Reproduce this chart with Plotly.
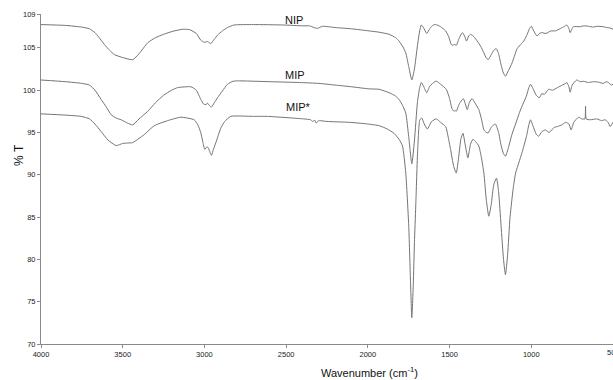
import plotly.graph_objects as go

# ---------------- data ----------------
nip_wn = [4000, 3850, 3750, 3703, 3670, 3652, 3612, 3580, 3551, 3500, 3439, 3400, 3347, 3300, 3250,
          3185, 3130, 3090, 3050, 3022, 3000, 2991, 2981, 2970, 2961, 2940, 2920, 2890, 2859, 2819,
          2700, 2514, 2400, 2357, 2330, 2308, 2278, 2200, 2100, 1992, 1931, 1870, 1830, 1809, 1785,
          1768, 1750, 1731, 1715, 1697, 1683, 1673, 1660, 1640, 1620, 1600, 1585, 1555, 1524, 1505,
          1490, 1483, 1470, 1459, 1440, 1422, 1408, 1396, 1383, 1371, 1350, 1331, 1310, 1290, 1275,
          1264, 1245, 1230, 1215, 1200, 1185, 1170, 1158, 1140, 1118, 1100, 1087, 1060, 1046, 1025,
          1010, 1000, 985, 965, 950, 935, 910, 880, 853, 820, 800, 782, 770, 762, 750, 742, 700, 680,
          650, 620, 600, 560, 540, 518, 500]
nip_t = [107.75, 107.65, 107.45, 107.25, 106.8, 106.4, 105.4, 104.7, 104.2, 103.85, 103.6, 104.3, 105.6,
         106.2, 106.6, 107.0, 107.2, 107.15, 106.7, 105.9, 105.65, 105.7, 105.75, 105.6, 105.5, 106.0,
         106.5, 107.0, 107.4, 107.7, 107.75, 107.7, 107.6, 107.6, 107.4, 107.3, 107.55, 107.4, 107.25,
         107.0, 106.85, 106.6, 106.2, 105.8, 105.1, 104.4, 102.8, 101.2, 102.5, 105.2, 107.0, 107.7,
         107.4, 106.7, 107.3, 107.7, 107.75, 107.5, 107.0, 106.3, 105.4, 105.3, 105.4, 105.3, 106.2,
         106.8, 106.4, 105.8, 106.4, 106.6, 106.3, 105.8, 105.2, 104.4, 103.8, 103.6, 104.2, 104.7,
         104.9, 104.3, 103.0, 102.0, 101.65, 102.3, 103.2, 104.2, 104.9, 105.5, 105.8, 106.6, 107.3,
         107.55, 107.0, 106.4, 106.7, 106.8, 106.7, 107.0, 107.0, 107.3, 107.5, 107.7, 107.3, 106.8,
         107.3, 107.5, 107.5, 107.6, 107.55, 107.45, 107.55, 107.5, 107.4, 107.35, 107.2]

mip_wn = [4000, 3850, 3750, 3703, 3670, 3632, 3600, 3571, 3540, 3510, 3470, 3439, 3400, 3347, 3300,
          3250, 3200, 3164, 3083, 3050, 3022, 3005, 2991, 2980, 2970, 2957, 2940, 2920, 2890, 2859,
          2825, 2798, 2600, 2418, 2300, 2200, 2100, 1992, 1931, 1870, 1830, 1809, 1788, 1768, 1750,
          1731, 1715, 1697, 1683, 1673, 1660, 1640, 1620, 1590, 1579, 1555, 1520, 1500, 1485, 1473,
          1465, 1459, 1440, 1416, 1404, 1392, 1378, 1362, 1345, 1321, 1305, 1290, 1275, 1264, 1245,
          1230, 1219, 1200, 1185, 1170, 1158, 1140, 1118, 1096, 1075, 1057, 1030, 1015, 1005, 990,
          970, 951, 935, 920, 894, 870, 840, 810, 790, 782, 770, 762, 750, 722, 700, 680, 650, 620,
          590, 560, 540, 528, 510, 500]
mip_t = [101.2, 101.0, 100.8, 100.6, 100.0, 98.9, 98.0, 97.1, 96.7, 96.5, 96.1, 95.9, 96.6, 97.5, 98.5,
         99.4, 100.0, 100.3, 100.4, 100.0, 98.9, 98.35, 98.3, 98.45, 98.2, 98.0, 98.5, 99.1, 99.9, 100.7,
         101.05, 101.1, 101.0, 100.9, 100.8, 100.6, 100.4, 100.15, 100.1, 99.7, 99.3, 98.9, 98.2, 97.3,
         94.5, 91.3, 94.0, 98.5, 100.3, 100.9, 100.5, 99.7, 100.5, 101.0, 101.05, 100.7, 100.1, 99.0,
         97.8, 97.5, 97.6, 97.5, 98.4, 99.0, 98.4, 97.7, 98.6, 99.0, 98.5, 97.7, 96.6, 95.3, 95.0,
         94.95, 95.6, 95.9, 96.0, 95.0, 93.5, 92.5, 92.2, 93.2, 94.8, 96.0, 97.2, 98.1, 99.3, 100.3,
         100.7, 100.2, 99.4, 99.1, 99.6, 99.5, 100.1, 100.0, 100.3, 100.6, 100.8, 100.9, 100.4, 99.75,
         100.6, 101.2, 101.0, 101.05, 100.9, 101.0, 100.95, 100.8, 101.0, 100.9, 100.6, 100.7]

mips_wn = [4000, 3850, 3754, 3703, 3670, 3632, 3590, 3540, 3500, 3470, 3439, 3400, 3368, 3307, 3225,
           3144, 3063, 3040, 3022, 3010, 2998, 2985, 2977, 2965, 2957, 2945, 2930, 2900, 2876, 2839,
           2700, 2615, 2392, 2350, 2337, 2325, 2316, 2305, 2296, 2250, 2114, 2000, 1931, 1880, 1840,
           1809, 1788, 1768, 1750, 1740, 1731, 1722, 1715, 1707, 1695, 1682, 1670, 1655, 1636, 1610,
           1581, 1555, 1524, 1510, 1494, 1475, 1459, 1445, 1430, 1418, 1403, 1388, 1372, 1357, 1340,
           1321, 1305, 1290, 1275, 1260, 1245, 1230, 1213, 1200, 1185, 1170, 1158, 1145, 1130, 1110,
           1096, 1075, 1057, 1030, 1015, 1005, 990, 970, 955, 935, 914, 890, 860, 840, 813, 790, 770,
           756, 740, 711, 690, 672, 668, 664, 640, 600, 570, 548, 530, 518, 500]
mips_t = [97.2, 97.05, 96.9, 96.6, 96.0, 95.1, 94.1, 93.45, 93.7, 93.75, 93.8, 94.3, 94.75, 95.8, 96.4,
          96.8, 96.5, 95.9, 94.95, 93.9, 93.0, 93.3, 93.2, 92.6, 92.3, 93.0, 93.8, 95.5, 96.3, 96.9,
          96.9, 96.9, 96.6, 96.5, 96.3, 96.45, 96.1, 96.35, 96.4, 96.3, 96.2, 96.0, 95.8, 95.4, 94.9,
          94.2, 93.4, 90.2, 84.0, 78.0, 73.1, 77.0, 82.0, 86.3, 93.0, 96.5, 96.7, 96.0, 95.4, 96.3,
          96.6, 96.2, 95.7, 94.6, 93.0, 91.0, 90.2, 92.0, 94.3, 94.9, 93.4, 92.0, 93.6, 94.2, 93.9,
          93.4, 92.0, 90.2, 87.0, 85.1, 86.5, 88.8, 89.6, 88.0, 84.0, 80.0, 78.2, 80.5, 85.0, 88.5,
          90.2, 91.5, 92.6, 94.5, 95.9, 96.5, 95.8, 94.8, 94.55, 95.1, 95.3, 95.0, 95.6, 95.7, 95.9,
          96.2, 96.0, 95.3, 96.2, 96.8, 96.6, 96.6, 98.1, 96.6, 96.5, 96.6, 96.4, 96.5, 96.2, 95.7, 96.2]

series_names = ["NIP", "MIP", "MIP*"]
label_wn = [2455, 2443, 2425]
label_t = [108.35, 101.8, 98.0]

x_ticks = [4000, 3500, 3000, 2500, 2000, 1500, 1000, 500]
y_ticks = [70, 75, 80, 85, 90, 95, 100, 105, 109]

# ---------------- figure ----------------
LINE = "#747474"
AX = "#8a8a8a"
FONT = "Arial, Liberation Sans, sans-serif"

fig = go.Figure()
for name, wn, t in zip(series_names, [nip_wn, mip_wn, mips_wn], [nip_t, mip_t, mips_t]):
    fig.add_trace(go.Scatter(x=wn, y=t, mode="lines", name=name,
                             line=dict(color=LINE, width=1, shape="spline", smoothing=0.5),
                             showlegend=False, hoverinfo="skip"))

for name, xw, yt in zip(series_names, label_wn, label_t):
    fig.add_annotation(x=xw, y=yt, xref="x", yref="y", text=name, showarrow=False,
                       font=dict(family=FONT, size=11, color="#111"))

# last tick label (cut by the right edge, as in the reference)
fig.add_annotation(x=x_ticks[-1], y=70, xref="x", yref="y", text=str(x_ticks[-1]), showarrow=False,
                   yanchor="top", yshift=-2, font=dict(family=FONT, size=7.5, color="#222"))

fig.add_annotation(x=1990, y=-0.085, xref="x", yref="paper", text="Wavenumber (cm<sup>-1</sup>)",
                   showarrow=False, font=dict(family=FONT, size=11, color="#111"), yanchor="middle")
fig.add_annotation(x=-0.0385, y=0.573, xref="paper", yref="paper", text="% T", textangle=-90,
                   showarrow=False, font=dict(family=FONT, size=12, color="#111"), xanchor="center")

fig.update_layout(
    width=613, height=380,
    margin=dict(l=41, r=0, t=14, b=36),
    paper_bgcolor="white", plot_bgcolor="white",
    font=dict(family=FONT, color="#222"),
    xaxis=dict(range=[4000, 500], tickvals=x_ticks[:-1], ticktext=[str(v) for v in x_ticks[:-1]],
               ticks="outside", ticklen=3, tickcolor=AX, showline=True, linecolor=AX, linewidth=1,
               showgrid=False, zeroline=False, tickfont=dict(size=7.5, color="#222"), mirror=False),
    yaxis=dict(range=[70, 109], tickvals=y_ticks, ticktext=[str(v) for v in y_ticks],
               ticks="outside", ticklen=3, tickcolor=AX, showline=True, linecolor=AX, linewidth=1,
               showgrid=False, zeroline=False, tickfont=dict(size=7.5, color="#222"), ticklabelstandoff=0),
)

fig.write_html("out.html")
